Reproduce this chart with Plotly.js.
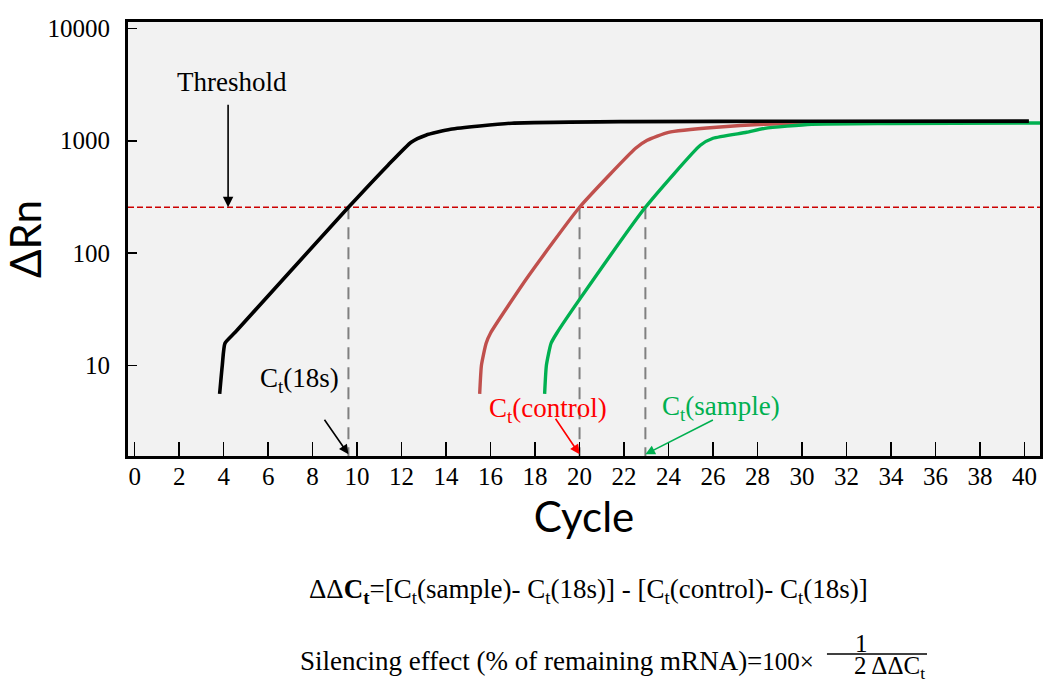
<!DOCTYPE html>
<html>
<head>
<meta charset="utf-8">
<script src="https://cdn.plot.ly/plotly-3.0.1.min.js"></script>
<style>html,body{margin:0;padding:0;background:#fff;}#chart{width:1050px;height:693px;}</style>
</head>
<body>
<div id="chart"></div>
<script>
// ---- data (cycle, ΔRn) ----
const cycle18s = [3.82, 3.94, 4.06, 4.53, 9.61, 11.39, 12.43, 13.09, 14.2, 16.96, 22.1, 30.4, 40.2];
const rn18s    = [5.6, 10.1, 15.8, 19.9, 256, 606, 970, 1120, 1265, 1432, 1480, 1490, 1495];

const cycleControl = [15.51, 15.59, 15.8, 16.0, 17.67, 20.0, 22.52, 23.04, 24.0, 26.16, 28.33, 30.43, 40.2];
const rnControl    = [5.6, 10.1, 15.8, 19.5, 61.3, 256, 857, 1009, 1189, 1318, 1403, 1432, 1470];

const cycleSample = [18.43, 18.51, 18.72, 18.98, 20.04, 22.96, 25.43, 26.0, 27.51, 28.33, 30.43, 34.0, 40.7];
const rnSample    = [5.6, 10.1, 15.8, 19.5, 39.8, 256, 912, 1052, 1189, 1288, 1403, 1425, 1440];

const threshold = 256;
const ctNames  = ["18s", "control", "sample"];
const ctValues = [9.61, 20.0, 22.96];
const ctColors = ["#000000", "#ff0000", "#00b050"];

const xTickVals = [0,2,4,6,8,10,12,14,16,18,20,22,24,26,28,30,32,34,36,38,40];
const yTickVals = [10, 100, 1000, 10000];
const yTickText = ["10", "100", "1000", "10000"];

const xRange = [-0.3, 40.7];
const yRangeLog = [0.196, 4.056];
const yBottom = Math.pow(10, yRangeLog[0]);

const serif = "Liberation Serif";

const traces = [];
// threshold line
traces.push({x: xRange, y: [threshold, threshold], mode: "lines", type: "scatter",
  line: {color: "#cc0000", width: 1.6, dash: "6px,3px"}, hoverinfo: "skip", showlegend: false});
// Ct drop lines
ctValues.forEach(function (ct) {
  traces.push({x: [ct, ct], y: [threshold, yBottom], mode: "lines", type: "scatter",
    line: {color: "#808080", width: 2, dash: "12px,8px"}, hoverinfo: "skip", showlegend: false});
});
traces.push({x: cycleControl, y: rnControl, mode: "lines", type: "scatter", name: "control",
  line: {color: "#c0504d", width: 3.4, shape: "spline", smoothing: 0.5}, showlegend: false});
traces.push({x: cycleSample, y: rnSample, mode: "lines", type: "scatter", name: "sample",
  line: {color: "#00b050", width: 3.4, shape: "spline", smoothing: 0.5}, showlegend: false});
traces.push({x: cycle18s, y: rn18s, mode: "lines", type: "scatter", name: "18s",
  line: {color: "#000000", width: 3.6, shape: "spline", smoothing: 0.5}, showlegend: false});

const annFont = {family: serif, size: 27, color: "#000"};
const annotations = [];
// Threshold label + arrow
annotations.push({x: 4.2, y: Math.log10(threshold), xref: "x", yref: "y", text: "", showarrow: true,
  ax: 0, ay: -104, arrowhead: 2, arrowsize: 1.3, arrowwidth: 1.6, arrowcolor: "#000", standoff: 0});
annotations.push({x: 4.2, y: 0.862, xref: "x", yref: "paper", xshift: 4, text: "Threshold",
  xanchor: "center", yanchor: "middle", showarrow: false, font: annFont});
// Ct labels
const ctTextShift = [-49, -32, 76];
const ctTextY = [0.175, 0.106, 0.11];
const ctArrowAx = [-25, -25, 69];
const ctArrowAy = [-36, -37, -35];
ctNames.forEach(function (n, i) {
  annotations.push({x: ctValues[i], y: 0.004, xref: "x", yref: "paper", text: "", showarrow: true,
    ax: ctArrowAx[i], ay: ctArrowAy[i], arrowhead: 2, arrowsize: 1.2, arrowwidth: 1.6,
    arrowcolor: ctColors[i], standoff: 0});
  annotations.push({x: ctValues[i], y: ctTextY[i], xref: "x", yref: "paper", xshift: ctTextShift[i],
    xanchor: "center", yanchor: "middle",
    text: "C<sub>t</sub>(" + n + ")", showarrow: false,
    font: {family: serif, size: 27, color: ctColors[i]}});
});
// formulas below the chart
annotations.push({x: 0.5044, y: -0.312, xref: "paper", yref: "paper", xanchor: "center", yanchor: "middle",
  showarrow: false, font: annFont,
  text: "ΔΔ<b>C<sub>t</sub></b>=[C<sub>t</sub>(sample)- C<sub>t</sub>(18s)] - [C<sub>t</sub>(control)- C<sub>t</sub>(18s)]"});
annotations.push({x: 0.1864, y: -0.4724, xref: "paper", yref: "paper", xanchor: "left", yanchor: "middle",
  showarrow: false, font: annFont,
  text: "Silencing effect (% of remaining mRNA)=<span style='font-size:25px'>100×</span>"});
annotations.push({x: 0.8048, y: -0.4309, xref: "paper", yref: "paper", xanchor: "center", yanchor: "middle",
  showarrow: false, font: {family: serif, size: 25, color: "#000"}, text: "1"});
annotations.push({x: 0.8355, y: -0.4862, xref: "paper", yref: "paper", xanchor: "center", yanchor: "middle",
  showarrow: false, font: {family: serif, size: 25, color: "#000"}, text: "2 ΔΔC<sub>t</sub>"});

const layout = {
  width: 1050, height: 693,
  margin: {l: 128, r: 10, t: 22, b: 237},
  paper_bgcolor: "#ffffff", plot_bgcolor: "#f2f2f2",
  showlegend: false,
  xaxis: {
    type: "linear", range: xRange, tickvals: xTickVals,
    ticks: "inside", ticklen: 14, tickwidth: 1.6, tickcolor: "#000",
    showgrid: false, zeroline: false,
    showline: true, mirror: true, linewidth: 3, linecolor: "#000",
    ticklabelstandoff: -4,
    tickfont: {family: serif, size: 25, color: "#000"},
    title: {text: "Cycle", font: {family: "Lato", size: 42, color: "#000"}, standoff: 14}
  },
  yaxis: {
    type: "log", range: yRangeLog, tickvals: yTickVals, ticktext: yTickText,
    ticks: "inside", ticklen: 9, tickwidth: 1.6, tickcolor: "#000",
    showgrid: false, zeroline: false,
    showline: true, mirror: true, linewidth: 3, linecolor: "#000",
    ticklabelstandoff: 10,
    tickfont: {family: serif, size: 25, color: "#000"},
    title: {text: "ΔRn", font: {family: "Lato", size: 42, color: "#000"}, standoff: 6}
  },
  annotations: annotations,
  shapes: [
    {type: "line", xref: "paper", yref: "paper", x0: 0.7664, x1: 0.8761, y0: -0.4562, y1: -0.4562,
     line: {color: "#000", width: 1.5}}
  ]
};

Plotly.newPlot("chart", traces, layout, {displayModeBar: false, staticPlot: true});
</script>
</body>
</html>
